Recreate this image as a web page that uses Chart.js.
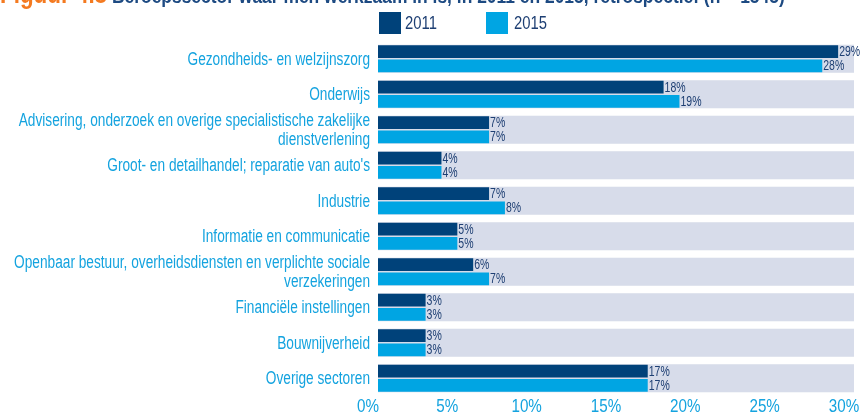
<!DOCTYPE html>
<html>
<head>
<meta charset="utf-8">
<script src="https://cdn.jsdelivr.net/npm/chart.js@4"></script>
<style>
  html, body { margin: 0; padding: 0; background: #fff; overflow: hidden; }
  #wrap { position: relative; width: 860px; height: 413px; }
  #title { position: absolute; left: 0; top: -21px; white-space: nowrap;
    font: bold 21px 'Liberation Sans', sans-serif; color: #1d4a82;
    transform: scaleX(0.83); transform-origin: left top; }
  #title span { color: #f47a20; font-size: 27px; }
  .lg { position: absolute; top: 12px; width: 22px; height: 22px; }
  .lgt { position: absolute; top: 12px; font: 19px 'Liberation Sans', sans-serif; color: #1e3f73;
    transform: scaleX(0.78); transform-origin: left top; }
</style>
</head>
<body>
<div id="wrap">
  <div id="title"><span>Figuur 4.8</span> Beroepssector waar men werkzaam in is, in 2011 en 2015, retrospectief (n = 1545)</div>
  <div class="lg" style="left:379px;background:#00427a"></div>
  <div class="lgt" style="left:405px">2011</div>
  <div class="lg" style="left:486px;background:#00a5e3"></div>
  <div class="lgt" style="left:514px">2015</div>
  <canvas id="chart" width="860" height="413"></canvas>
</div>
<script>
const sectors = [
  'Gezondheids- en welzijnszorg',
  'Onderwijs',
  ['Advisering, onderzoek en overige specialistische zakelijke', 'dienstverlening'],
  "Groot- en detailhandel; reparatie van auto's",
  'Industrie',
  'Informatie en communicatie',
  ['Openbaar bestuur, overheidsdiensten en verplichte sociale', 'verzekeringen'],
  'Financiële instellingen',
  'Bouwnijverheid',
  'Overige sectoren'
];
const values2011 = [29, 18, 7, 4, 7, 5, 6, 3, 3, 17];
const values2015 = [28, 19, 7, 4, 8, 5, 7, 3, 3, 17];
const axisTicks = [0, 5, 10, 15, 20, 25, 30];

const font = "'Liberation Sans', Arial, sans-serif";
const catPct = 0.79;

// the original uses a condensed face, so squeeze the text horizontally
function narrowText(ctx, txt, x, y, align, sx) {
  ctx.save();
  ctx.translate(x, y);
  ctx.scale(sx, 1);
  ctx.textAlign = align;
  ctx.fillText(txt, 0, 0);
  ctx.restore();
}

// grey band behind each pair of bars
const bandPlugin = {
  id: 'bands',
  beforeDatasetsDraw(chart) {
    const { ctx, chartArea, scales } = chart;
    const y = scales.y;
    const pitch = y.getPixelForValue(1) - y.getPixelForValue(0);
    const h = pitch * catPct;
    ctx.save();
    ctx.fillStyle = '#d7dcea';
    sectors.forEach((s, i) => {
      const cy = y.getPixelForValue(i);
      ctx.fillRect(chartArea.left, cy - h / 2, chartArea.right - chartArea.left, h);
    });
    ctx.restore();
  }
};

const textPlugin = {
  id: 'texts',
  afterDatasetsDraw(chart) {
    const { ctx, chartArea, scales } = chart;
    ctx.save();
    ctx.textBaseline = 'middle';

    // value labels
    ctx.font = '14px ' + font;
    ctx.fillStyle = '#1e3f73';
    chart.data.datasets.forEach((ds, di) => {
      chart.getDatasetMeta(di).data.forEach((bar, i) => {
        narrowText(ctx, ds.data[i] + '%', bar.x + 1, bar.y + 0.5, 'left', 0.75);
      });
    });

    // category labels
    ctx.font = '18px ' + font;
    ctx.fillStyle = '#14a3df';
    const lh = 18.5;
    sectors.forEach((lab, i) => {
      const lines = Array.isArray(lab) ? lab : [lab];
      const cy = scales.y.getPixelForValue(i) + 1;
      lines.forEach((ln, k) => {
        const yy = cy + (k - (lines.length - 1) / 2) * lh;
        narrowText(ctx, ln, chartArea.left - 8, yy, 'right', 0.76);
      });
    });

    // x tick labels
    ctx.font = '19px ' + font;
    axisTicks.forEach(v => {
      narrowText(ctx, v + '%', scales.x.getPixelForValue(v) - 10, chartArea.bottom + 10.5, 'center', 0.8);
    });
    ctx.restore();
  }
};

new Chart(document.getElementById('chart'), {
  type: 'bar',
  data: {
    labels: sectors,
    datasets: [
      { label: '2011', data: values2011, backgroundColor: '#00427a',
        categoryPercentage: catPct, barPercentage: 0.91 },
      { label: '2015', data: values2015, backgroundColor: '#00a5e3',
        categoryPercentage: catPct, barPercentage: 0.91 }
    ]
  },
  options: {
    indexAxis: 'y',
    responsive: false,
    animation: false,
    layout: { padding: { top: 41, right: 6, left: 378, bottom: 17 } },
    plugins: { legend: { display: false }, tooltip: { enabled: false } },
    scales: {
      x: { display: false, min: 0, max: 30 },
      y: { display: false }
    }
  },
  plugins: [bandPlugin, textPlugin]
});
</script>
</body>
</html>
